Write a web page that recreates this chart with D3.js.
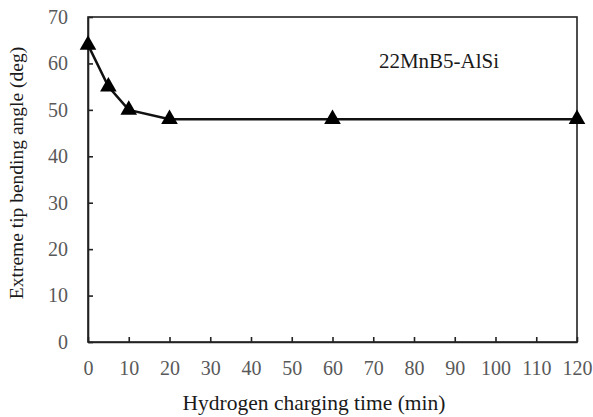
<!DOCTYPE html>
<html><head><meta charset="utf-8">
<script src="https://cdn.jsdelivr.net/npm/d3@7"></script>
<style>body{margin:0;background:#fff}svg{display:block}</style>
</head><body>
<script>
const times = [0, 5, 10, 20, 60, 120];
const angles = [64, 55, 50, 48, 48, 48];
const xTicks = [0,10,20,30,40,50,60,70,80,90,100,110,120];
const yTicks = [0,10,20,30,40,50,60,70];
const seriesLabel = "22MnB5-AlSi";
const xTitle = "Hydrogen charging time (min)";
const yTitle = "Extreme tip bending angle (deg)";

const W = 593, H = 417;
const m = {l:88, r:16, t:17, b:75};
const svg = d3.select("body").append("svg").attr("width",W).attr("height",H);
const x = d3.scaleLinear().domain([0,120]).range([m.l, W-m.r]);
const y = d3.scaleLinear().domain([0,70]).range([H-m.b, m.t]);
const font = "Liberation Serif";

// frame
svg.append("rect").attr("x",x(0)).attr("y",y(70)).attr("width",x(120)-x(0)).attr("height",y(0)-y(70))
  .attr("fill","none").attr("stroke","#222").attr("stroke-width",1.6);

const xa = svg.append("g").attr("transform",`translate(0,${y(0)})`)
  .call(d3.axisBottom(x).tickValues(xTicks).tickSizeInner(-5).tickSizeOuter(0).tickPadding(19));
const ya = svg.append("g").attr("transform",`translate(${x(0)},0)`)
  .call(d3.axisLeft(y).tickValues(yTicks).tickSizeInner(-5).tickSizeOuter(0).tickPadding(20));
[xa,ya].forEach(a=>{
  a.attr("font-family",font).attr("font-size",20);
  a.select(".domain").attr("stroke","#222").attr("stroke-width",1.6);
  a.selectAll(".tick line").attr("stroke","#222").attr("stroke-width",1.6);
  a.selectAll(".tick text").attr("fill","#595959");
});

svg.append("path").datum(times.map((t,i)=>[t,angles[i]]))
  .attr("fill","none").attr("stroke","#111").attr("stroke-width",2.5)
  .attr("d", d3.line().x(d=>x(d[0])).y(d=>y(d[1])));

svg.selectAll(".pt").data(times.map((t,i)=>[t,angles[i]])).enter().append("path")
  .attr("transform",d=>`translate(${x(d[0])},${y(d[1])})`)
  .attr("d", d3.symbol().type(d3.symbolTriangle).size(120))
  .attr("fill","#000");

svg.append("text").attr("x",439).attr("y",68).attr("text-anchor","middle")
  .attr("font-family",font).attr("font-size",21).attr("fill","#1a1a1a").text(seriesLabel);

svg.append("text").attr("x",314).attr("y",410).attr("text-anchor","middle")
  .attr("font-family",font).attr("font-size",21.5).attr("fill","#1a1a1a").text(xTitle);
svg.append("text").attr("transform",`translate(23,173) rotate(-90)`).attr("text-anchor","middle")
  .attr("font-family",font).attr("font-size",19.5).attr("fill","#1a1a1a").text(yTitle);
</script>
</body></html>
